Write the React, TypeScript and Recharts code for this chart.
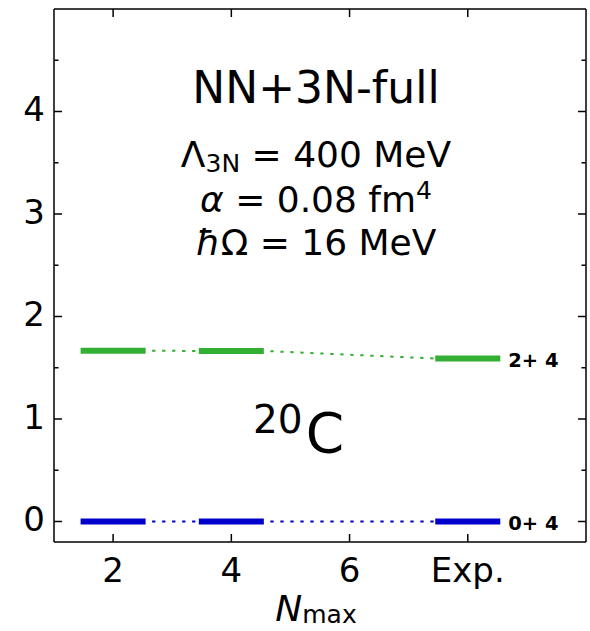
import React from 'react';
import { ComposedChart, Line, XAxis, YAxis } from 'recharts';

// ---- data ----
const nmaxPositions = [2, 4, 8];
const xTickValues = [2, 4, 6, 8];
const xTickLabels = ['2', '4', '6', 'Exp.'];
const yTickValues = [0, 0.5, 1, 1.5, 2, 2.5, 3, 3.5, 4, 4.5];
const groundValues = [0, 0, 0];
const excitedValues = [1.666, 1.664, 1.59];
const levelNames = ['0+ 4', '2+ 4'];
const levelColors = ['#0000cc', '#33b033'];
const levelHalfWidth = 0.55;

const levels = [
  { name: levelNames[0], values: groundValues, color: levelColors[0] },
  { name: levelNames[1], values: excitedValues, color: levelColors[1] },
];

type Pt = { x: number; y: number };
type Seg = { key: string; data: Pt[]; color: string; dashed: boolean; label?: string };

const segments: Seg[] = [];
levels.forEach((lv, li) => {
  nmaxPositions.forEach((p, i) => {
    segments.push({
      key: `s-${li}-${i}`,
      data: [
        { x: p - levelHalfWidth, y: lv.values[i] },
        { x: p + levelHalfWidth, y: lv.values[i] },
      ],
      color: lv.color,
      dashed: false,
      label: i === nmaxPositions.length - 1 ? lv.name : undefined,
    });
    if (i < nmaxPositions.length - 1) {
      segments.push({
        key: `c-${li}-${i}`,
        data: [
          { x: p + levelHalfWidth, y: lv.values[i] },
          { x: nmaxPositions[i + 1] - levelHalfWidth, y: lv.values[i + 1] },
        ],
        color: lv.color,
        dashed: true,
      });
    }
  });
});

const FONT = 'DejaVu Sans, sans-serif';
const isMajor = (v: number) => Math.abs(v - Math.round(v)) < 1e-6;

const LeftTick = (props: any) => {
  const { x, y, payload } = props;
  const v = payload.value;
  const major = isMajor(v);
  return (
    <g>
      <line x1={x} x2={x + (major ? 8 : 4.5)} y1={y} y2={y} stroke="#000" strokeWidth={1.5} />
      {major && (
        <text x={x - 9} y={y + 9.5} textAnchor="end" fontSize={34} fontFamily={FONT} fill="#000">
          {v}
        </text>
      )}
    </g>
  );
};

const RightTick = (props: any) => {
  const { x, y, payload } = props;
  const major = isMajor(payload.value);
  return <line x1={x} x2={x - (major ? 8 : 4.5)} y1={y} y2={y} stroke="#000" strokeWidth={1.5} />;
};

const BottomTick = (props: any) => {
  const { x, y, payload } = props;
  const idx = xTickValues.indexOf(payload.value);
  return (
    <g>
      <line x1={x} x2={x} y1={y} y2={y - 8} stroke="#000" strokeWidth={1.5} />
      <text x={x} y={y + 40} textAnchor="middle" fontSize={34} fontFamily={FONT} fill="#000">
        {idx >= 0 ? xTickLabels[idx] : payload.value}
      </text>
    </g>
  );
};

const TopTick = (props: any) => {
  const { x, y } = props;
  return <line x1={x} x2={x} y1={y} y2={y + 8} stroke="#000" strokeWidth={1.5} />;
};

const makeLevelLabel = (text?: string) => (props: any) => {
  const { x, y, index } = props;
  if (!text || index !== 1) return null;
  return (
    <text x={x + 8} y={y + 8.6} fontSize={19.5} fontWeight="bold" fontFamily={FONT} fill="#000">
      {text}
    </text>
  );
};

export default function App() {
  const W = 590;
  const H = 631;
  return (
    <div style={{ position: 'absolute', left: 0, top: 0, width: W, height: H, background: '#fff' }}>
      <ComposedChart width={W} height={H} margin={{ top: 8, right: 3, bottom: 0, left: 0 }}>
        <XAxis
          xAxisId="bottom"
          dataKey="x"
          type="number"
          orientation="bottom"
          domain={[1, 10]}
          ticks={xTickValues}
          allowDataOverflow
          interval={0}
          height={89}
          tickSize={0}
          tickMargin={0}
          tickLine={false}
          axisLine={{ stroke: '#000', strokeWidth: 1.5 }}
          tick={<BottomTick />}
        />
        <XAxis
          xAxisId="top"
          dataKey="x"
          orientation="top"
          type="number"
          domain={[1, 10]}
          ticks={xTickValues}
          allowDataOverflow
          interval={0}
          height={1}
          tickSize={0}
          tickMargin={0}
          tickLine={false}
          axisLine={{ stroke: '#000', strokeWidth: 1.5 }}
          tick={<TopTick />}
        />
        <YAxis
          yAxisId="left"
          type="number"
          orientation="left"
          domain={[-0.2, 5.0]}
          ticks={yTickValues}
          allowDataOverflow
          interval={0}
          width={54}
          tickSize={0}
          tickMargin={0}
          tickLine={false}
          axisLine={{ stroke: '#000', strokeWidth: 1.5 }}
          tick={<LeftTick />}
        />
        <YAxis
          yAxisId="right"
          orientation="right"
          type="number"
          domain={[-0.2, 5.0]}
          ticks={yTickValues}
          allowDataOverflow
          interval={0}
          width={1}
          tickSize={0}
          tickMargin={0}
          tickLine={false}
          axisLine={{ stroke: '#000', strokeWidth: 1.5 }}
          tick={<RightTick />}
        />
        <Line
          xAxisId="top"
          yAxisId="right"
          data={segments[0].data}
          dataKey="y"
          stroke="none"
          strokeWidth={0}
          dot={false}
          activeDot={false}
          isAnimationActive={false}
        />
        {segments.map((s) => (
          <Line
            key={s.key}
            xAxisId="bottom"
            yAxisId="left"
            data={s.data}
            dataKey="y"
            type="linear"
            stroke={s.color}
            strokeWidth={s.dashed ? 2 : 6}
            strokeDasharray={s.dashed ? '3.3 6.7' : undefined}
            strokeDashoffset={s.dashed ? 3.5 : undefined}
            dot={false}
            activeDot={false}
            isAnimationActive={false}
            label={s.label ? makeLevelLabel(s.label) : undefined}
          />
        ))}
      </ComposedChart>
      <svg
        width={W}
        height={H}
        style={{ position: 'absolute', left: 0, top: 0, pointerEvents: 'none' }}
        fontFamily={FONT}
      >
        <text x={316} y={103.3} textAnchor="middle" fontSize={44} fill="#000">
          NN+3N-full
        </text>
        <text x={316} y={166.7} textAnchor="middle" fontSize={36} fill="#000">
          Λ<tspan fontSize={25} dy={5}>3N</tspan>
          <tspan dy={-5}> = 400 MeV</tspan>
        </text>
        <text x={316} y={211.7} textAnchor="middle" fontSize={36} fill="#000">
          <tspan fontStyle="italic">α</tspan> = 0.08 fm<tspan fontSize={25} dy={-13}>4</tspan>
        </text>
        <text x={316} y={255} textAnchor="middle" fontSize={36} fill="#000">
          <tspan fontStyle="italic">ħ</tspan>Ω = 16 MeV
        </text>
        <text x={253} y={452} fontSize={55} fill="#000">
          <tspan fontSize={39} dy={-19}>20</tspan>
          <tspan dy={19} dx={3}>C</tspan>
        </text>
        <text x={316} y={621} textAnchor="middle" fontSize={36} fill="#000">
          <tspan fontStyle="italic">N</tspan>
          <tspan fontSize={25} dy={1.5}>max</tspan>
        </text>
      </svg>
    </div>
  );
}
